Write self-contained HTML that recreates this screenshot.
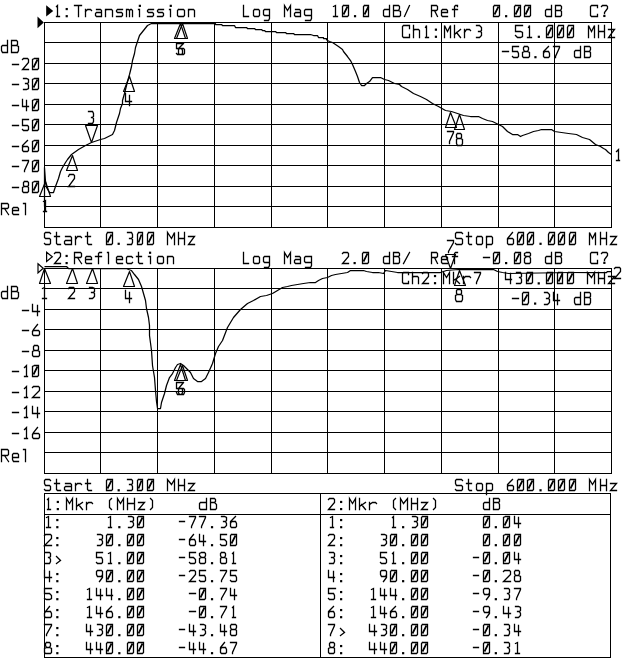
<!DOCTYPE html><html><head><meta charset="utf-8"><style>html,body{margin:0;padding:0;background:#fff;}svg{display:block}</style></head><body>
<svg width="640" height="659" viewBox="0 0 640 659">
<rect width="640" height="659" fill="#fff"/>
<g fill="#000"><rect x="44" y="22" width="568" height="1"/><rect x="44" y="42" width="568" height="1"/><rect x="44" y="63" width="568" height="1"/><rect x="44" y="83" width="568" height="1"/><rect x="44" y="104" width="568" height="1"/><rect x="44" y="124" width="568" height="1"/><rect x="44" y="145" width="568" height="1"/><rect x="44" y="165" width="568" height="1"/><rect x="44" y="186" width="568" height="1"/><rect x="44" y="206" width="568" height="1"/><rect x="44" y="227" width="568" height="1"/><rect x="44" y="22" width="1" height="206"/><rect x="100" y="22" width="1" height="206"/><rect x="157" y="22" width="1" height="206"/><rect x="214" y="22" width="1" height="206"/><rect x="271" y="22" width="1" height="206"/><rect x="327" y="22" width="1" height="206"/><rect x="384" y="22" width="1" height="206"/><rect x="441" y="22" width="1" height="206"/><rect x="498" y="22" width="1" height="206"/><rect x="554" y="22" width="1" height="206"/><rect x="611" y="22" width="1" height="206"/><rect x="44" y="268" width="568" height="1"/><rect x="44" y="288" width="568" height="1"/><rect x="44" y="309" width="568" height="1"/><rect x="44" y="329" width="568" height="1"/><rect x="44" y="350" width="568" height="1"/><rect x="44" y="370" width="568" height="1"/><rect x="44" y="391" width="568" height="1"/><rect x="44" y="411" width="568" height="1"/><rect x="44" y="432" width="568" height="1"/><rect x="44" y="452" width="568" height="1"/><rect x="44" y="473" width="568" height="1"/><rect x="44" y="268" width="1" height="206"/><rect x="100" y="268" width="1" height="206"/><rect x="157" y="268" width="1" height="206"/><rect x="214" y="268" width="1" height="206"/><rect x="271" y="268" width="1" height="206"/><rect x="327" y="268" width="1" height="206"/><rect x="384" y="268" width="1" height="206"/><rect x="441" y="268" width="1" height="206"/><rect x="498" y="268" width="1" height="206"/><rect x="554" y="268" width="1" height="206"/><rect x="611" y="268" width="1" height="206"/><rect x="44" y="493" width="567" height="1"/><rect x="44" y="514" width="567" height="1"/><rect x="44" y="657" width="567" height="1"/><rect x="44" y="493" width="1" height="165"/><rect x="320" y="493" width="1" height="165"/><rect x="610" y="493" width="1" height="165"/></g>
<g fill="none" stroke="#000" stroke-width="1.25" stroke-linejoin="round">
<polyline points="44.5,206.5 44.5,167.5 45.5,181.5 46.5,187.5 49.5,192.5 53.5,192.5 55.5,186.5 58.5,178.5 60.5,171.5 62.5,167.5 65.5,162.5 67.5,159.5 71.5,154.5 78.5,149.5 85.5,145.5 91.5,142.5 100.5,139.5 104.5,138.5 108.5,136.5 112.5,134.5 114.5,130.5 115.5,126.5 116.5,122.5 117.5,119.5 119.5,113.5 120.5,108.5 122.5,103.5 122.5,100.5 124.5,93.5 127.5,81.5 129.5,74.5 131.5,66.5 132.5,60.5 134.5,53.5 135.5,47.5 137.5,41.5 139.5,35.5 143.5,30.5 147.5,25.5 151.5,23.5 155.5,23.5 215.5,23.5 215.5,24.5 221.5,24.5 222.5,25.5 234.5,25.5 235.5,27.5 246.5,27.5 247.5,28.5 254.5,28.5 255.5,29.5 261.5,29.5 262.5,30.5 264.5,30.5 265.5,31.5 275.5,31.5 276.5,32.5 285.5,32.5 286.5,33.5 293.5,33.5 294.5,34.5 310.5,34.5 313.5,35.5 317.5,35.5 318.5,37.5 323.5,37.5 323.5,38.5 326.5,38.5 326.5,39.5 327.5,40.5 329.5,41.5 332.5,42.5 338.5,46.5 342.5,49.5 343.5,51.5 347.5,56.5 350.5,60.5 352.5,64.5 355.5,71.5 357.5,76.5 359.5,82.5 361.5,85.5 364.5,85.5 366.5,83.5 369.5,81.5 372.5,77.5 380.5,77.5 384.5,79.5 388.5,80.5 394.5,83.5 399.5,84.5 401.5,86.5 407.5,89.5 413.5,93.5 420.5,96.5 426.5,99.5 432.5,103.5 438.5,106.5 445.5,110.5 451.5,111.5 457.5,113.5 463.5,115.5 470.5,116.5 478.5,116.5 480.5,117.5 482.5,118.5 487.5,120.5 492.5,121.5 498.5,124.5 502.5,126.5 507.5,131.5 512.5,134.5 517.5,134.5 520.5,136.5 522.5,135.5 528.5,133.5 533.5,131.5 538.5,130.5 541.5,129.5 551.5,129.5 554.5,131.5 561.5,132.5 568.5,133.5 576.5,134.5 582.5,137.5 589.5,139.5 595.5,144.5 600.5,146.5 603.5,148.5 605.5,149.5 608.5,152.5 611.5,154.5"/>
<polyline points="44.5,266.5 66.5,266.5 68.5,268.5 126.5,268.5 128.5,269.5 131.5,270.5 134.5,274.5 138.5,279.5 141.5,286.5 143.5,293.5 145.5,300.5 146.5,308.5 148.5,317.5 149.5,325.5 149.5,335.5 151.5,350.5 152.5,365.5 154.5,377.5 155.5,390.5 156.5,401.5 157.5,408.5 160.5,408.5 161.5,402.5 164.5,393.5 166.5,385.5 169.5,377.5 172.5,373.5 175.5,367.5 177.5,364.5 180.5,363.5 183.5,365.5 186.5,368.5 190.5,372.5 193.5,378.5 197.5,381.5 201.5,381.5 205.5,378.5 208.5,372.5 212.5,363.5 215.5,353.5 218.5,346.5 222.5,340.5 227.5,327.5 233.5,317.5 240.5,309.5 247.5,303.5 253.5,300.5 260.5,296.5 266.5,295.5 272.5,293.5 277.5,290.5 282.5,287.5 287.5,286.5 291.5,285.5 297.5,284.5 303.5,283.5 310.5,282.5 315.5,282.5 318.5,280.5 322.5,278.5 327.5,277.5 331.5,275.5 335.5,274.5 341.5,273.5 347.5,272.5 350.5,270.5 358.5,270.5 363.5,270.5 366.5,271.5 372.5,272.5 378.5,272.5 383.5,273.5 385.5,270.5 391.5,271.5 397.5,272.5 440.5,272.5 446.5,270.5 458.5,269.5 476.5,269.5 477.5,269.5 493.5,269.5 497.5,271.5 502.5,272.5 508.5,273.5 570.5,272.5 595.5,272.5 606.5,272.5 607.5,271.5 611.5,271.5"/>
</g>
<polygon points="37.5,16.5 43.8,22.5 37.5,28.3" fill="#000"/>
<polygon points="38,263.8 43.2,268.3 38,273" fill="none" stroke="#000" stroke-width="1.2"/>
<polygon points="46.2,5.2 53.2,10.9 46.2,16.6" fill="#000"/>
<polygon points="46.6,252.3 52.3,256.8 46.6,261.4" fill="none" stroke="#000" stroke-width="1.2"/>
<g fill="none" stroke="#000" stroke-width="1.2" stroke-linejoin="round"><polygon points="45.5,181.5 50.5,196.5 39.5,196.5"/><polygon points="72.5,155.5 77.5,170.5 66.5,170.5"/><polygon points="91.5,142.5 97.5,125.5 85.5,125.5"/><polygon points="129.5,76.5 134.5,91.5 123.5,91.5"/><polygon points="180.5,23.5 185.5,38.5 174.5,38.5"/><polygon points="182.5,23.5 187.5,38.5 176.5,38.5"/><polygon points="450.5,112.5 456.5,127.5 445.5,127.5"/><polygon points="459.5,114.5 464.5,129.5 454.5,129.5"/><polygon points="44.5,268.5 50.5,283.5 39.5,283.5"/><polygon points="72.5,268.5 77.5,283.5 66.5,283.5"/><polygon points="92.5,268.5 97.5,283.5 86.5,283.5"/><polygon points="129.5,271.5 134.5,286.5 123.5,286.5"/><polygon points="180.5,364.5 185.5,380.5 174.5,380.5"/><polygon points="182.5,365.5 187.5,380.5 176.5,380.5"/><polygon points="450.5,268.5 455.5,254.5 445.5,254.5"/><polygon points="459.5,270.5 465.5,285.5 454.5,285.5"/></g>
<path fill="none" stroke="#000" stroke-width="1.3" stroke-linecap="square" stroke-linejoin="miter" d="M56.5 6.5L57.5 5.5L57.5 16.5M56.5 16.5L59.5 16.5M74.5 5.5L81.5 5.5M78.5 5.5L78.5 16.5M85.5 9.5L85.5 16.5M85.5 11.5L87.5 9.5L90.5 9.5L91.5 10.5M96.5 9.5L100.5 9.5L101.5 10.5L101.5 16.5M101.5 12.5L96.5 12.5L95.5 13.5L95.5 15.5L96.5 16.5L101.5 16.5M105.5 9.5L105.5 16.5M105.5 10.5L106.5 9.5L111.5 9.5L112.5 10.5L112.5 16.5M122.5 9.5L117.5 9.5L116.5 10.5L116.5 11.5L117.5 12.5L121.5 12.5L122.5 13.5L122.5 15.5L121.5 16.5L116.5 16.5M126.5 9.5L126.5 16.5M126.5 9.5L128.5 9.5L129.5 10.5L129.5 16.5M129.5 10.5L130.5 9.5L131.5 9.5L132.5 10.5L132.5 16.5M138.5 9.5L139.5 9.5L139.5 16.5M153.5 9.5L148.5 9.5L147.5 10.5L147.5 11.5L148.5 12.5L152.5 12.5L153.5 13.5L153.5 15.5L152.5 16.5L147.5 16.5M163.5 9.5L158.5 9.5L157.5 10.5L157.5 11.5L158.5 12.5L162.5 12.5L163.5 13.5L163.5 15.5L162.5 16.5L157.5 16.5M169.5 9.5L170.5 9.5L170.5 16.5M178.5 9.5L183.5 9.5L184.5 10.5L184.5 15.5L183.5 16.5L178.5 16.5L177.5 15.5L177.5 10.5L178.5 9.5M188.5 9.5L188.5 16.5M188.5 10.5L189.5 9.5L193.5 9.5L194.5 10.5L194.5 16.5M243.5 5.5L243.5 16.5L248.5 16.5M254.5 9.5L258.5 9.5L259.5 10.5L259.5 15.5L258.5 16.5L254.5 16.5L253.5 15.5L253.5 10.5L254.5 9.5M269.5 9.5L264.5 9.5L263.5 10.5L263.5 14.5L264.5 15.5L269.5 15.5M269.5 9.5L269.5 18.5L268.5 20.5L264.5 20.5M284.5 16.5L284.5 5.5L287.5 10.5L290.5 5.5L290.5 16.5M295.5 9.5L299.5 9.5L300.5 10.5L300.5 16.5M300.5 12.5L295.5 12.5L294.5 13.5L294.5 15.5L295.5 16.5L300.5 16.5M311.5 9.5L305.5 9.5L304.5 10.5L304.5 14.5L305.5 15.5L311.5 15.5M311.5 9.5L311.5 18.5L310.5 20.5L305.5 20.5M333.5 6.5L335.5 5.5L335.5 16.5M333.5 16.5L337.5 16.5M343.5 5.5L348.5 5.5L348.5 15.5L347.5 16.5L342.5 16.5L342.5 6.5L343.5 5.5M364.5 5.5L368.5 5.5L368.5 15.5L368.5 16.5L363.5 16.5L363.5 6.5L364.5 5.5M389.5 5.5L389.5 16.5L384.5 16.5L383.5 15.5L383.5 10.5L384.5 9.5L389.5 9.5M393.5 5.5L398.5 5.5L399.5 6.5L399.5 8.5L398.5 10.5L393.5 10.5M398.5 10.5L400.5 11.5L400.5 15.5L399.5 16.5L393.5 16.5L393.5 5.5M404.5 16.5L409.5 5.5M431.5 16.5L431.5 5.5L436.5 5.5L437.5 6.5L437.5 9.5L436.5 10.5L431.5 10.5M434.5 10.5L437.5 16.5M441.5 12.5L447.5 12.5L447.5 10.5L446.5 9.5L442.5 9.5L441.5 10.5L441.5 15.5L442.5 16.5L447.5 16.5M457.5 6.5L457.5 5.5L455.5 5.5L454.5 6.5L454.5 16.5M452.5 9.5L457.5 9.5M494.5 5.5L499.5 5.5L499.5 15.5L498.5 16.5L493.5 16.5L493.5 6.5L494.5 5.5M515.5 5.5L520.5 5.5L520.5 15.5L519.5 16.5L514.5 16.5L514.5 6.5L515.5 5.5M525.5 5.5L530.5 5.5L530.5 15.5L529.5 16.5L524.5 16.5L524.5 6.5L525.5 5.5M551.5 5.5L551.5 16.5L546.5 16.5L545.5 15.5L545.5 10.5L546.5 9.5L551.5 9.5M555.5 5.5L560.5 5.5L561.5 6.5L561.5 8.5L560.5 10.5L555.5 10.5M560.5 10.5L561.5 11.5L561.5 15.5L560.5 16.5L555.5 16.5L555.5 5.5M597.5 7.5L597.5 5.5L591.5 5.5L590.5 6.5L590.5 15.5L591.5 16.5L597.5 16.5L597.5 14.5M601.5 6.5L602.5 5.5L606.5 5.5L607.5 6.5L607.5 8.5L604.5 12.5L604.5 13.5M409.5 28.5L409.5 25.5L403.5 25.5L402.5 26.5L402.5 36.5L403.5 37.5L409.5 37.5L409.5 34.5M413.5 25.5L413.5 37.5M413.5 30.5L414.5 29.5L418.5 29.5L419.5 30.5L419.5 37.5M425.5 27.5L426.5 25.5L426.5 37.5M425.5 37.5L428.5 37.5M444.5 37.5L444.5 25.5L447.5 31.5L450.5 25.5L450.5 37.5M454.5 25.5L454.5 37.5M460.5 29.5L454.5 34.5M456.5 32.5L460.5 37.5M464.5 29.5L464.5 37.5M464.5 32.5L466.5 29.5L469.5 29.5L470.5 30.5M476.5 25.5L479.5 25.5L481.5 27.5L481.5 30.5L480.5 31.5L478.5 31.5M480.5 31.5L481.5 32.5L481.5 35.5L479.5 37.5L476.5 37.5M522.5 25.5L515.5 25.5L515.5 31.5L520.5 31.5L522.5 32.5L522.5 36.5L520.5 37.5L517.5 37.5L515.5 35.5M528.5 27.5L529.5 25.5L529.5 37.5M527.5 37.5L531.5 37.5M548.5 25.5L552.5 25.5L552.5 36.5L551.5 37.5L546.5 37.5L546.5 27.5L548.5 25.5M558.5 25.5L563.5 25.5L563.5 36.5L562.5 37.5L557.5 37.5L557.5 27.5L558.5 25.5M568.5 25.5L573.5 25.5L573.5 36.5L572.5 37.5L567.5 37.5L567.5 27.5L568.5 25.5M588.5 37.5L588.5 25.5L591.5 31.5L594.5 25.5L594.5 37.5M598.5 25.5L598.5 37.5M604.5 25.5L604.5 37.5M598.5 31.5L604.5 31.5M608.5 29.5L614.5 29.5L608.5 37.5L614.5 37.5M502.5 51.5L508.5 51.5M518.5 46.5L512.5 46.5L512.5 51.5L517.5 51.5L518.5 53.5L518.5 56.5L517.5 57.5L513.5 57.5L512.5 56.5M524.5 46.5L527.5 46.5L528.5 47.5L528.5 49.5L527.5 51.5L524.5 51.5L523.5 49.5L523.5 47.5L524.5 46.5M524.5 51.5L522.5 52.5L522.5 56.5L523.5 57.5L528.5 57.5L529.5 56.5L529.5 52.5L527.5 51.5M548.5 46.5L543.5 51.5L543.5 53.5L543.5 56.5L544.5 57.5L548.5 57.5L549.5 56.5L549.5 53.5L548.5 51.5L544.5 51.5L543.5 53.5M553.5 46.5L559.5 46.5L559.5 47.5L555.5 56.5L555.5 57.5M580.5 46.5L580.5 57.5L575.5 57.5L574.5 56.5L574.5 51.5L575.5 50.5L580.5 50.5M584.5 46.5L589.5 46.5L590.5 47.5L590.5 49.5L589.5 51.5L584.5 51.5M589.5 51.5L590.5 52.5L590.5 56.5L589.5 57.5L584.5 57.5L584.5 46.5M7.5 40.5L7.5 52.5L2.5 52.5L1.5 50.5L1.5 46.5L2.5 45.5L7.5 45.5M11.5 40.5L16.5 40.5L17.5 41.5L17.5 44.5L16.5 45.5L11.5 45.5M16.5 45.5L18.5 46.5L18.5 50.5L17.5 52.5L11.5 52.5L11.5 40.5M12.5 64.5L18.5 64.5M22.5 59.5L23.5 58.5L27.5 58.5L28.5 59.5L28.5 62.5L22.5 69.5L28.5 69.5M34.5 58.5L38.5 58.5L38.5 68.5L37.5 69.5L32.5 69.5L32.5 59.5L34.5 58.5M12.5 84.5L18.5 84.5M23.5 78.5L26.5 78.5L28.5 79.5L28.5 82.5L27.5 83.5L25.5 83.5M27.5 83.5L28.5 85.5L28.5 88.5L26.5 89.5L23.5 89.5M34.5 78.5L38.5 78.5L38.5 88.5L37.5 89.5L32.5 89.5L32.5 79.5L34.5 78.5M12.5 105.5L18.5 105.5M22.5 99.5L22.5 106.5L28.5 106.5M26.5 100.5L26.5 110.5M34.5 99.5L38.5 99.5L38.5 109.5L37.5 110.5L32.5 110.5L32.5 100.5L34.5 99.5M12.5 125.5L18.5 125.5M28.5 119.5L22.5 119.5L22.5 125.5L27.5 125.5L28.5 126.5L28.5 129.5L27.5 130.5L23.5 130.5L22.5 129.5M34.5 119.5L38.5 119.5L38.5 129.5L37.5 130.5L32.5 130.5L32.5 120.5L34.5 119.5M12.5 146.5L18.5 146.5M27.5 140.5L22.5 145.5L22.5 147.5L22.5 150.5L23.5 151.5L27.5 151.5L28.5 150.5L28.5 147.5L27.5 146.5L23.5 146.5L22.5 147.5M34.5 140.5L38.5 140.5L38.5 150.5L37.5 151.5L32.5 151.5L32.5 141.5L34.5 140.5M12.5 166.5L18.5 166.5M22.5 160.5L28.5 160.5L28.5 161.5L24.5 170.5L24.5 171.5M34.5 160.5L38.5 160.5L38.5 170.5L37.5 171.5L32.5 171.5L32.5 161.5L34.5 160.5M12.5 187.5L18.5 187.5M24.5 181.5L27.5 181.5L28.5 182.5L28.5 185.5L27.5 186.5L24.5 186.5L23.5 185.5L23.5 182.5L24.5 181.5M24.5 186.5L22.5 187.5L22.5 191.5L23.5 192.5L27.5 192.5L28.5 191.5L28.5 187.5L27.5 186.5M34.5 181.5L38.5 181.5L38.5 191.5L37.5 192.5L32.5 192.5L32.5 182.5L34.5 181.5M1.5 214.5L1.5 203.5L7.5 203.5L8.5 204.5L8.5 207.5L7.5 208.5L1.5 208.5M4.5 208.5L8.5 214.5M12.5 210.5L18.5 210.5L18.5 208.5L17.5 207.5L13.5 207.5L12.5 208.5L12.5 213.5L13.5 214.5L18.5 214.5M23.5 203.5L25.5 203.5L25.5 214.5M50.5 233.5L49.5 232.5L45.5 232.5L44.5 233.5L44.5 237.5L45.5 238.5L49.5 238.5L50.5 239.5L50.5 243.5L49.5 244.5L45.5 244.5L44.5 243.5M56.5 232.5L56.5 243.5L57.5 244.5L60.5 244.5M54.5 236.5L59.5 236.5M65.5 236.5L70.5 236.5L71.5 237.5L71.5 244.5M71.5 240.5L65.5 240.5L64.5 241.5L64.5 243.5L65.5 244.5L71.5 244.5M75.5 236.5L75.5 244.5M75.5 239.5L77.5 236.5L80.5 236.5L81.5 237.5M87.5 232.5L87.5 243.5L88.5 244.5L91.5 244.5M85.5 236.5L90.5 236.5M107.5 232.5L112.5 232.5L112.5 243.5L111.5 244.5L106.5 244.5L106.5 234.5L107.5 232.5M127.5 232.5L131.5 232.5L132.5 234.5L132.5 237.5L131.5 238.5L129.5 238.5M131.5 238.5L132.5 239.5L132.5 242.5L131.5 244.5L127.5 244.5M138.5 232.5L142.5 232.5L142.5 243.5L141.5 244.5L137.5 244.5L137.5 234.5L138.5 232.5M148.5 232.5L153.5 232.5L153.5 243.5L152.5 244.5L147.5 244.5L147.5 234.5L148.5 232.5M167.5 244.5L167.5 232.5L171.5 238.5L174.5 232.5L174.5 244.5M178.5 232.5L178.5 244.5M184.5 232.5L184.5 244.5M178.5 238.5L184.5 238.5M188.5 236.5L194.5 236.5L188.5 244.5L194.5 244.5M462.5 233.5L461.5 232.5L456.5 232.5L455.5 233.5L455.5 237.5L456.5 238.5L461.5 238.5L462.5 239.5L462.5 243.5L461.5 244.5L456.5 244.5L455.5 243.5M468.5 232.5L468.5 243.5L469.5 244.5L471.5 244.5M466.5 236.5L471.5 236.5M477.5 236.5L481.5 236.5L482.5 237.5L482.5 243.5L481.5 244.5L477.5 244.5L476.5 243.5L476.5 237.5L477.5 236.5M486.5 236.5L486.5 247.5M486.5 237.5L487.5 236.5L491.5 236.5L492.5 237.5L492.5 243.5L491.5 244.5L486.5 244.5M512.5 232.5L507.5 238.5L507.5 239.5L507.5 243.5L508.5 244.5L512.5 244.5L513.5 243.5L513.5 239.5L512.5 238.5L508.5 238.5L507.5 239.5M518.5 232.5L523.5 232.5L523.5 243.5L522.5 244.5L517.5 244.5L517.5 234.5L518.5 232.5M529.5 232.5L533.5 232.5L533.5 243.5L532.5 244.5L527.5 244.5L527.5 234.5L529.5 232.5M549.5 232.5L554.5 232.5L554.5 243.5L553.5 244.5L548.5 244.5L548.5 234.5L549.5 232.5M560.5 232.5L564.5 232.5L564.5 243.5L563.5 244.5L558.5 244.5L558.5 234.5L560.5 232.5M570.5 232.5L575.5 232.5L575.5 243.5L574.5 244.5L569.5 244.5L569.5 234.5L570.5 232.5M589.5 244.5L589.5 232.5L592.5 238.5L595.5 232.5L595.5 244.5M600.5 232.5L600.5 244.5M606.5 232.5L606.5 244.5M600.5 238.5L606.5 238.5M610.5 236.5L616.5 236.5L610.5 244.5L616.5 244.5M54.5 253.5L55.5 252.5L59.5 252.5L60.5 253.5L60.5 256.5L54.5 263.5L60.5 263.5M74.5 263.5L74.5 252.5L80.5 252.5L81.5 253.5L81.5 256.5L80.5 257.5L74.5 257.5M77.5 257.5L81.5 263.5M85.5 259.5L91.5 259.5L91.5 257.5L90.5 256.5L86.5 256.5L85.5 257.5L85.5 262.5L86.5 263.5L91.5 263.5M101.5 252.5L100.5 252.5L99.5 252.5L98.5 253.5L98.5 263.5M95.5 256.5L101.5 256.5M107.5 252.5L108.5 252.5L108.5 263.5M116.5 259.5L122.5 259.5L122.5 257.5L121.5 256.5L117.5 256.5L116.5 257.5L116.5 262.5L117.5 263.5L122.5 263.5M132.5 257.5L131.5 256.5L127.5 256.5L126.5 257.5L126.5 262.5L127.5 263.5L131.5 263.5L132.5 262.5M138.5 252.5L138.5 262.5L139.5 263.5L142.5 263.5M136.5 256.5L141.5 256.5M148.5 256.5L150.5 256.5L150.5 263.5M158.5 256.5L162.5 256.5L163.5 257.5L163.5 262.5L162.5 263.5L158.5 263.5L157.5 262.5L157.5 257.5L158.5 256.5M167.5 256.5L167.5 263.5M167.5 257.5L168.5 256.5L172.5 256.5L173.5 257.5L173.5 263.5M243.5 252.5L243.5 263.5L248.5 263.5M254.5 256.5L258.5 256.5L259.5 257.5L259.5 262.5L258.5 263.5L254.5 263.5L253.5 262.5L253.5 257.5L254.5 256.5M269.5 256.5L264.5 256.5L263.5 257.5L263.5 261.5L264.5 262.5L269.5 262.5M269.5 256.5L269.5 265.5L268.5 267.5L264.5 267.5M284.5 263.5L284.5 252.5L287.5 257.5L290.5 252.5L290.5 263.5M295.5 256.5L299.5 256.5L300.5 257.5L300.5 263.5M300.5 259.5L295.5 259.5L294.5 260.5L294.5 262.5L295.5 263.5L300.5 263.5M311.5 256.5L305.5 256.5L304.5 257.5L304.5 261.5L305.5 262.5L311.5 262.5M311.5 256.5L311.5 265.5L310.5 267.5L305.5 267.5M342.5 253.5L343.5 252.5L347.5 252.5L348.5 253.5L348.5 256.5L342.5 263.5L348.5 263.5M363.5 252.5L368.5 252.5L368.5 262.5L367.5 263.5L362.5 263.5L362.5 253.5L363.5 252.5M389.5 252.5L389.5 263.5L384.5 263.5L383.5 262.5L383.5 257.5L384.5 256.5L389.5 256.5M393.5 252.5L398.5 252.5L399.5 253.5L399.5 255.5L398.5 256.5L393.5 256.5M398.5 256.5L399.5 258.5L399.5 262.5L398.5 263.5L393.5 263.5L393.5 252.5M403.5 263.5L409.5 252.5M431.5 263.5L431.5 252.5L436.5 252.5L437.5 253.5L437.5 256.5L436.5 257.5L431.5 257.5M434.5 257.5L437.5 263.5M441.5 259.5L447.5 259.5L447.5 257.5L446.5 256.5L442.5 256.5L441.5 257.5L441.5 262.5L442.5 263.5L447.5 263.5M457.5 252.5L457.5 252.5L455.5 252.5L454.5 253.5L454.5 263.5M452.5 256.5L457.5 256.5M483.5 257.5L489.5 257.5M494.5 252.5L499.5 252.5L499.5 262.5L498.5 263.5L493.5 263.5L493.5 253.5L494.5 252.5M515.5 252.5L520.5 252.5L520.5 262.5L519.5 263.5L514.5 263.5L514.5 253.5L515.5 252.5M526.5 252.5L529.5 252.5L530.5 253.5L530.5 255.5L529.5 256.5L526.5 256.5L524.5 255.5L524.5 253.5L526.5 252.5M526.5 256.5L524.5 258.5L524.5 262.5L525.5 263.5L529.5 263.5L530.5 262.5L530.5 258.5L529.5 256.5M551.5 252.5L551.5 263.5L546.5 263.5L545.5 262.5L545.5 257.5L546.5 256.5L551.5 256.5M555.5 252.5L560.5 252.5L561.5 253.5L561.5 255.5L560.5 256.5L555.5 256.5M560.5 256.5L561.5 258.5L561.5 262.5L560.5 263.5L555.5 263.5L555.5 252.5M597.5 254.5L597.5 252.5L591.5 252.5L590.5 253.5L590.5 262.5L591.5 263.5L597.5 263.5L597.5 260.5M601.5 253.5L602.5 252.5L606.5 252.5L607.5 253.5L607.5 255.5L604.5 259.5L604.5 260.5M408.5 274.5L408.5 272.5L403.5 272.5L402.5 273.5L402.5 282.5L403.5 283.5L408.5 283.5L408.5 281.5M412.5 272.5L412.5 283.5M412.5 277.5L413.5 276.5L417.5 276.5L418.5 277.5L418.5 283.5M422.5 273.5L423.5 272.5L427.5 272.5L428.5 273.5L428.5 276.5L422.5 283.5L428.5 283.5M443.5 283.5L443.5 272.5L446.5 277.5L449.5 272.5L449.5 283.5M453.5 272.5L453.5 283.5M459.5 276.5L453.5 280.5M455.5 279.5L459.5 283.5M463.5 276.5L463.5 283.5M463.5 278.5L465.5 276.5L469.5 276.5L470.5 277.5M474.5 272.5L480.5 272.5L480.5 273.5L476.5 282.5L476.5 283.5M505.5 272.5L505.5 279.5L511.5 279.5M510.5 273.5L510.5 283.5M516.5 272.5L520.5 272.5L521.5 274.5L521.5 276.5L520.5 277.5L519.5 277.5M520.5 277.5L521.5 279.5L521.5 282.5L520.5 283.5L516.5 283.5M527.5 272.5L532.5 272.5L532.5 282.5L531.5 283.5L526.5 283.5L526.5 273.5L527.5 272.5M547.5 272.5L552.5 272.5L552.5 282.5L551.5 283.5L546.5 283.5L546.5 273.5L547.5 272.5M558.5 272.5L562.5 272.5L562.5 282.5L562.5 283.5L557.5 283.5L557.5 273.5L558.5 272.5M568.5 272.5L573.5 272.5L573.5 282.5L572.5 283.5L567.5 283.5L567.5 273.5L568.5 272.5M587.5 283.5L587.5 272.5L591.5 277.5L594.5 272.5L594.5 283.5M598.5 272.5L598.5 283.5M604.5 272.5L604.5 283.5M598.5 278.5L604.5 278.5M608.5 276.5L614.5 276.5L608.5 283.5L614.5 283.5M512.5 298.5L518.5 298.5M523.5 292.5L528.5 292.5L528.5 302.5L527.5 304.5L522.5 304.5L522.5 293.5L523.5 292.5M544.5 292.5L547.5 292.5L549.5 294.5L549.5 296.5L548.5 298.5L546.5 298.5M548.5 298.5L549.5 299.5L549.5 302.5L547.5 304.5L544.5 304.5M553.5 292.5L553.5 300.5L559.5 300.5M557.5 294.5L557.5 304.5M580.5 292.5L580.5 304.5L575.5 304.5L574.5 302.5L574.5 298.5L575.5 297.5L580.5 297.5M584.5 292.5L589.5 292.5L590.5 293.5L590.5 296.5L589.5 297.5L584.5 297.5M589.5 297.5L590.5 298.5L590.5 302.5L589.5 304.5L584.5 304.5L584.5 292.5M7.5 286.5L7.5 298.5L2.5 298.5L1.5 296.5L1.5 292.5L2.5 291.5L7.5 291.5M11.5 286.5L16.5 286.5L17.5 287.5L17.5 290.5L16.5 291.5L11.5 291.5M16.5 291.5L18.5 292.5L18.5 296.5L17.5 298.5L11.5 298.5L11.5 286.5M22.5 310.5L28.5 310.5M32.5 304.5L32.5 311.5L39.5 311.5M37.5 305.5L37.5 315.5M22.5 330.5L28.5 330.5M37.5 324.5L33.5 329.5L32.5 331.5L32.5 334.5L33.5 335.5L38.5 335.5L39.5 334.5L39.5 331.5L38.5 330.5L33.5 330.5L32.5 331.5M22.5 351.5L28.5 351.5M34.5 345.5L37.5 345.5L38.5 346.5L38.5 349.5L37.5 350.5L34.5 350.5L33.5 349.5L33.5 346.5L34.5 345.5M34.5 350.5L32.5 351.5L32.5 355.5L33.5 356.5L38.5 356.5L39.5 355.5L39.5 351.5L37.5 350.5M12.5 371.5L18.5 371.5M24.5 367.5L26.5 365.5L26.5 376.5M24.5 376.5L27.5 376.5M34.5 365.5L38.5 365.5L38.5 375.5L37.5 376.5L32.5 376.5L32.5 366.5L34.5 365.5M12.5 392.5L18.5 392.5M24.5 388.5L26.5 386.5L26.5 397.5M24.5 397.5L27.5 397.5M32.5 387.5L33.5 386.5L38.5 386.5L39.5 387.5L39.5 390.5L32.5 397.5L39.5 397.5M12.5 412.5L18.5 412.5M24.5 408.5L26.5 406.5L26.5 417.5M24.5 417.5L27.5 417.5M32.5 406.5L32.5 413.5L39.5 413.5M37.5 407.5L37.5 417.5M12.5 433.5L18.5 433.5M24.5 429.5L26.5 427.5L26.5 438.5M24.5 438.5L27.5 438.5M37.5 427.5L33.5 432.5L32.5 434.5L32.5 437.5L33.5 438.5L38.5 438.5L39.5 437.5L39.5 434.5L38.5 433.5L33.5 433.5L32.5 434.5M1.5 461.5L1.5 449.5L7.5 449.5L8.5 450.5L8.5 454.5L7.5 455.5L1.5 455.5M4.5 455.5L8.5 461.5M12.5 457.5L18.5 457.5L18.5 454.5L17.5 453.5L13.5 453.5L12.5 454.5L12.5 459.5L13.5 461.5L18.5 461.5M23.5 449.5L25.5 449.5L25.5 461.5M50.5 480.5L49.5 479.5L45.5 479.5L44.5 480.5L44.5 483.5L45.5 485.5L49.5 485.5L50.5 486.5L50.5 489.5L49.5 490.5L45.5 490.5L44.5 489.5M56.5 479.5L56.5 489.5L57.5 490.5L60.5 490.5M54.5 483.5L59.5 483.5M65.5 483.5L70.5 483.5L71.5 484.5L71.5 490.5M71.5 486.5L65.5 486.5L64.5 487.5L64.5 489.5L65.5 490.5L71.5 490.5M75.5 483.5L75.5 490.5M75.5 485.5L77.5 483.5L80.5 483.5L81.5 484.5M87.5 479.5L87.5 489.5L88.5 490.5L91.5 490.5M85.5 483.5L90.5 483.5M107.5 479.5L112.5 479.5L112.5 489.5L111.5 490.5L106.5 490.5L106.5 480.5L107.5 479.5M127.5 479.5L131.5 479.5L132.5 480.5L132.5 483.5L131.5 484.5L129.5 484.5M131.5 484.5L132.5 486.5L132.5 489.5L131.5 490.5L127.5 490.5M138.5 479.5L142.5 479.5L142.5 489.5L141.5 490.5L137.5 490.5L137.5 480.5L138.5 479.5M148.5 479.5L153.5 479.5L153.5 489.5L152.5 490.5L147.5 490.5L147.5 480.5L148.5 479.5M167.5 490.5L167.5 479.5L171.5 484.5L174.5 479.5L174.5 490.5M178.5 479.5L178.5 490.5M184.5 479.5L184.5 490.5M178.5 485.5L184.5 485.5M188.5 483.5L194.5 483.5L188.5 490.5L194.5 490.5M462.5 480.5L461.5 479.5L456.5 479.5L455.5 480.5L455.5 483.5L456.5 485.5L461.5 485.5L462.5 486.5L462.5 489.5L461.5 490.5L456.5 490.5L455.5 489.5M468.5 479.5L468.5 489.5L469.5 490.5L471.5 490.5M466.5 483.5L471.5 483.5M477.5 483.5L481.5 483.5L482.5 484.5L482.5 489.5L481.5 490.5L477.5 490.5L476.5 489.5L476.5 484.5L477.5 483.5M486.5 483.5L486.5 494.5M486.5 484.5L487.5 483.5L491.5 483.5L492.5 484.5L492.5 489.5L491.5 490.5L486.5 490.5M512.5 479.5L507.5 484.5L507.5 486.5L507.5 489.5L508.5 490.5L512.5 490.5L513.5 489.5L513.5 486.5L512.5 485.5L508.5 485.5L507.5 486.5M518.5 479.5L523.5 479.5L523.5 489.5L522.5 490.5L517.5 490.5L517.5 480.5L518.5 479.5M529.5 479.5L533.5 479.5L533.5 489.5L532.5 490.5L527.5 490.5L527.5 480.5L529.5 479.5M549.5 479.5L554.5 479.5L554.5 489.5L553.5 490.5L548.5 490.5L548.5 480.5L549.5 479.5M560.5 479.5L564.5 479.5L564.5 489.5L563.5 490.5L558.5 490.5L558.5 480.5L560.5 479.5M570.5 479.5L575.5 479.5L575.5 489.5L574.5 490.5L569.5 490.5L569.5 480.5L570.5 479.5M589.5 490.5L589.5 479.5L592.5 484.5L595.5 479.5L595.5 490.5M600.5 479.5L600.5 490.5M606.5 479.5L606.5 490.5M600.5 485.5L606.5 485.5M610.5 483.5L616.5 483.5L610.5 490.5L616.5 490.5M47.5 499.5L48.5 498.5L48.5 509.5M47.5 509.5L50.5 509.5M66.5 509.5L66.5 498.5L69.5 503.5L72.5 498.5L72.5 509.5M76.5 498.5L76.5 509.5M82.5 502.5L76.5 506.5M78.5 504.5L82.5 509.5M86.5 502.5L86.5 509.5M86.5 504.5L88.5 502.5L91.5 502.5L92.5 503.5M111.5 498.5L109.5 500.5L109.5 507.5L111.5 509.5M117.5 509.5L117.5 498.5L120.5 503.5L123.5 498.5L123.5 509.5M127.5 498.5L127.5 509.5M134.5 498.5L134.5 509.5M127.5 503.5L134.5 503.5M138.5 502.5L144.5 502.5L138.5 509.5L144.5 509.5M150.5 498.5L152.5 500.5L152.5 507.5L150.5 509.5M206.5 498.5L206.5 509.5L200.5 509.5L199.5 508.5L199.5 503.5L200.5 502.5L206.5 502.5M210.5 498.5L214.5 498.5L215.5 499.5L215.5 501.5L214.5 502.5L210.5 502.5M214.5 502.5L216.5 504.5L216.5 508.5L215.5 509.5L210.5 509.5L210.5 498.5M328.5 499.5L329.5 498.5L333.5 498.5L334.5 499.5L334.5 502.5L328.5 509.5L334.5 509.5M349.5 509.5L349.5 498.5L352.5 503.5L355.5 498.5L355.5 509.5M359.5 498.5L359.5 509.5M365.5 502.5L359.5 506.5M361.5 504.5L365.5 509.5M369.5 502.5L369.5 509.5M369.5 504.5L372.5 502.5L375.5 502.5L376.5 503.5M395.5 498.5L393.5 500.5L393.5 507.5L395.5 509.5M400.5 509.5L400.5 498.5L403.5 503.5L407.5 498.5L407.5 509.5M411.5 498.5L411.5 509.5M417.5 498.5L417.5 509.5M411.5 503.5L417.5 503.5M421.5 502.5L427.5 502.5L421.5 509.5L427.5 509.5M433.5 498.5L435.5 500.5L435.5 507.5L433.5 509.5M489.5 498.5L489.5 509.5L484.5 509.5L483.5 508.5L483.5 503.5L484.5 502.5L489.5 502.5M493.5 498.5L498.5 498.5L499.5 499.5L499.5 501.5L498.5 502.5L493.5 502.5M498.5 502.5L499.5 504.5L499.5 508.5L498.5 509.5L493.5 509.5L493.5 498.5M46.5 517.5L48.5 516.5L48.5 527.5M46.5 527.5L50.5 527.5M108.5 517.5L110.5 516.5L110.5 527.5M108.5 527.5L111.5 527.5M128.5 516.5L131.5 516.5L133.5 517.5L133.5 520.5L132.5 521.5L130.5 521.5M132.5 521.5L133.5 523.5L133.5 525.5L131.5 527.5L128.5 527.5M138.5 516.5L143.5 516.5L143.5 526.5L142.5 527.5L137.5 527.5L137.5 517.5L138.5 516.5M179.5 521.5L184.5 521.5M189.5 516.5L195.5 516.5L195.5 517.5L191.5 526.5L191.5 527.5M199.5 516.5L205.5 516.5L205.5 517.5L201.5 526.5L201.5 527.5M221.5 516.5L224.5 516.5L226.5 517.5L226.5 520.5L225.5 521.5L223.5 521.5M225.5 521.5L226.5 523.5L226.5 525.5L224.5 527.5L221.5 527.5M235.5 516.5L230.5 521.5L230.5 523.5L230.5 526.5L231.5 527.5L235.5 527.5L236.5 526.5L236.5 523.5L235.5 521.5L231.5 521.5L230.5 523.5M330.5 517.5L332.5 516.5L332.5 527.5M330.5 527.5L333.5 527.5M392.5 517.5L393.5 516.5L393.5 527.5M392.5 527.5L395.5 527.5M412.5 516.5L415.5 516.5L417.5 517.5L417.5 520.5L416.5 521.5L414.5 521.5M416.5 521.5L417.5 523.5L417.5 525.5L415.5 527.5L412.5 527.5M422.5 516.5L427.5 516.5L427.5 526.5L426.5 527.5L421.5 527.5L421.5 517.5L422.5 516.5M484.5 516.5L489.5 516.5L489.5 526.5L488.5 527.5L483.5 527.5L483.5 517.5L484.5 516.5M505.5 516.5L509.5 516.5L509.5 526.5L508.5 527.5L503.5 527.5L503.5 517.5L505.5 516.5M514.5 516.5L514.5 523.5L520.5 523.5M518.5 517.5L518.5 527.5M44.5 535.5L45.5 534.5L50.5 534.5L51.5 535.5L51.5 538.5L44.5 545.5L51.5 545.5M97.5 534.5L100.5 534.5L102.5 535.5L102.5 538.5L101.5 539.5L99.5 539.5M101.5 539.5L102.5 541.5L102.5 543.5L100.5 545.5L97.5 545.5M107.5 534.5L112.5 534.5L112.5 544.5L111.5 545.5L106.5 545.5L106.5 535.5L107.5 534.5M128.5 534.5L133.5 534.5L133.5 544.5L132.5 545.5L127.5 545.5L127.5 535.5L128.5 534.5M138.5 534.5L143.5 534.5L143.5 544.5L142.5 545.5L137.5 545.5L137.5 535.5L138.5 534.5M179.5 539.5L184.5 539.5M193.5 534.5L189.5 539.5L189.5 541.5L189.5 544.5L190.5 545.5L194.5 545.5L195.5 544.5L195.5 541.5L194.5 539.5L190.5 539.5L189.5 541.5M199.5 534.5L199.5 541.5L205.5 541.5M203.5 535.5L203.5 545.5M226.5 534.5L220.5 534.5L220.5 539.5L224.5 539.5L226.5 541.5L226.5 544.5L225.5 545.5L221.5 545.5L220.5 544.5M231.5 534.5L236.5 534.5L236.5 544.5L235.5 545.5L230.5 545.5L230.5 535.5L231.5 534.5M328.5 535.5L329.5 534.5L333.5 534.5L334.5 535.5L334.5 538.5L328.5 545.5L334.5 545.5M381.5 534.5L384.5 534.5L386.5 535.5L386.5 538.5L385.5 539.5L383.5 539.5M385.5 539.5L386.5 541.5L386.5 543.5L384.5 545.5L381.5 545.5M391.5 534.5L396.5 534.5L396.5 544.5L395.5 545.5L390.5 545.5L390.5 535.5L391.5 534.5M412.5 534.5L417.5 534.5L417.5 544.5L416.5 545.5L411.5 545.5L411.5 535.5L412.5 534.5M422.5 534.5L427.5 534.5L427.5 544.5L426.5 545.5L421.5 545.5L421.5 535.5L422.5 534.5M484.5 534.5L489.5 534.5L489.5 544.5L488.5 545.5L483.5 545.5L483.5 535.5L484.5 534.5M505.5 534.5L509.5 534.5L509.5 544.5L508.5 545.5L503.5 545.5L503.5 535.5L505.5 534.5M515.5 534.5L520.5 534.5L520.5 544.5L519.5 545.5L514.5 545.5L514.5 535.5L515.5 534.5M45.5 552.5L49.5 552.5L50.5 553.5L50.5 556.5L49.5 557.5L48.5 557.5M49.5 557.5L50.5 559.5L50.5 561.5L49.5 563.5L45.5 563.5M56.5 556.5L60.5 560.5L56.5 563.5M102.5 552.5L96.5 552.5L96.5 557.5L101.5 557.5L102.5 559.5L102.5 562.5L101.5 563.5L97.5 563.5L96.5 562.5M108.5 553.5L110.5 552.5L110.5 563.5M108.5 563.5L111.5 563.5M128.5 552.5L133.5 552.5L133.5 562.5L132.5 563.5L127.5 563.5L127.5 553.5L128.5 552.5M138.5 552.5L143.5 552.5L143.5 562.5L142.5 563.5L137.5 563.5L137.5 553.5L138.5 552.5M179.5 557.5L184.5 557.5M195.5 552.5L189.5 552.5L189.5 557.5L193.5 557.5L195.5 559.5L195.5 562.5L194.5 563.5L190.5 563.5L189.5 562.5M201.5 552.5L204.5 552.5L205.5 553.5L205.5 555.5L204.5 557.5L201.5 557.5L199.5 555.5L199.5 553.5L201.5 552.5M201.5 557.5L199.5 558.5L199.5 562.5L200.5 563.5L204.5 563.5L205.5 562.5L205.5 558.5L204.5 557.5M221.5 552.5L224.5 552.5L225.5 553.5L225.5 555.5L224.5 557.5L221.5 557.5L220.5 555.5L220.5 553.5L221.5 552.5M221.5 557.5L220.5 558.5L220.5 562.5L221.5 563.5L225.5 563.5L226.5 562.5L226.5 558.5L224.5 557.5M232.5 553.5L233.5 552.5L233.5 563.5M232.5 563.5L235.5 563.5M329.5 552.5L333.5 552.5L334.5 553.5L334.5 556.5L333.5 557.5L331.5 557.5M333.5 557.5L334.5 559.5L334.5 561.5L333.5 563.5L329.5 563.5M386.5 552.5L380.5 552.5L380.5 557.5L384.5 557.5L386.5 559.5L386.5 562.5L385.5 563.5L381.5 563.5L380.5 562.5M392.5 553.5L393.5 552.5L393.5 563.5M392.5 563.5L395.5 563.5M412.5 552.5L417.5 552.5L417.5 562.5L416.5 563.5L411.5 563.5L411.5 553.5L412.5 552.5M422.5 552.5L427.5 552.5L427.5 562.5L426.5 563.5L421.5 563.5L421.5 553.5L422.5 552.5M473.5 557.5L478.5 557.5M484.5 552.5L489.5 552.5L489.5 562.5L488.5 563.5L483.5 563.5L483.5 553.5L484.5 552.5M505.5 552.5L509.5 552.5L509.5 562.5L508.5 563.5L503.5 563.5L503.5 553.5L505.5 552.5M514.5 552.5L514.5 559.5L520.5 559.5M518.5 553.5L518.5 563.5M44.5 570.5L44.5 577.5L51.5 577.5M49.5 571.5L49.5 581.5M102.5 574.5L101.5 576.5L97.5 576.5L96.5 574.5L96.5 571.5L97.5 570.5L101.5 570.5L102.5 571.5L102.5 577.5L99.5 581.5M107.5 570.5L112.5 570.5L112.5 580.5L111.5 581.5L106.5 581.5L106.5 571.5L107.5 570.5M128.5 570.5L133.5 570.5L133.5 580.5L132.5 581.5L127.5 581.5L127.5 571.5L128.5 570.5M138.5 570.5L143.5 570.5L143.5 580.5L142.5 581.5L137.5 581.5L137.5 571.5L138.5 570.5M179.5 575.5L184.5 575.5M189.5 571.5L190.5 570.5L194.5 570.5L195.5 571.5L195.5 574.5L189.5 581.5L195.5 581.5M205.5 570.5L199.5 570.5L199.5 575.5L204.5 575.5L205.5 577.5L205.5 580.5L204.5 581.5L200.5 581.5L199.5 580.5M220.5 570.5L226.5 570.5L226.5 571.5L221.5 580.5L221.5 581.5M236.5 570.5L230.5 570.5L230.5 575.5L235.5 575.5L236.5 577.5L236.5 580.5L235.5 581.5L231.5 581.5L230.5 580.5M328.5 570.5L328.5 577.5L334.5 577.5M333.5 571.5L333.5 581.5M386.5 574.5L385.5 576.5L381.5 576.5L380.5 574.5L380.5 571.5L381.5 570.5L385.5 570.5L386.5 571.5L386.5 577.5L383.5 581.5M391.5 570.5L396.5 570.5L396.5 580.5L395.5 581.5L390.5 581.5L390.5 571.5L391.5 570.5M412.5 570.5L417.5 570.5L417.5 580.5L416.5 581.5L411.5 581.5L411.5 571.5L412.5 570.5M422.5 570.5L427.5 570.5L427.5 580.5L426.5 581.5L421.5 581.5L421.5 571.5L422.5 570.5M473.5 575.5L478.5 575.5M484.5 570.5L489.5 570.5L489.5 580.5L488.5 581.5L483.5 581.5L483.5 571.5L484.5 570.5M503.5 571.5L504.5 570.5L509.5 570.5L510.5 571.5L510.5 574.5L503.5 581.5L510.5 581.5M515.5 570.5L518.5 570.5L519.5 571.5L519.5 573.5L518.5 575.5L515.5 575.5L514.5 573.5L514.5 571.5L515.5 570.5M515.5 575.5L514.5 576.5L514.5 580.5L515.5 581.5L519.5 581.5L520.5 580.5L520.5 576.5L518.5 575.5M51.5 588.5L44.5 588.5L44.5 593.5L49.5 593.5L51.5 595.5L51.5 598.5L49.5 599.5L46.5 599.5L44.5 598.5M87.5 589.5L89.5 588.5L89.5 599.5M87.5 599.5L91.5 599.5M96.5 588.5L96.5 595.5L102.5 595.5M100.5 589.5L100.5 599.5M106.5 588.5L106.5 595.5L112.5 595.5M111.5 589.5L111.5 599.5M128.5 588.5L133.5 588.5L133.5 598.5L132.5 599.5L127.5 599.5L127.5 589.5L128.5 588.5M138.5 588.5L143.5 588.5L143.5 598.5L142.5 599.5L137.5 599.5L137.5 589.5L138.5 588.5M189.5 593.5L195.5 593.5M200.5 588.5L205.5 588.5L205.5 598.5L204.5 599.5L199.5 599.5L199.5 589.5L200.5 588.5M220.5 588.5L226.5 588.5L226.5 589.5L221.5 598.5L221.5 599.5M230.5 588.5L230.5 595.5L236.5 595.5M234.5 589.5L234.5 599.5M335.5 588.5L328.5 588.5L328.5 593.5L333.5 593.5L334.5 595.5L334.5 598.5L333.5 599.5L329.5 599.5L328.5 598.5M371.5 589.5L373.5 588.5L373.5 599.5M371.5 599.5L375.5 599.5M380.5 588.5L380.5 595.5L386.5 595.5M384.5 589.5L384.5 599.5M390.5 588.5L390.5 595.5L396.5 595.5M395.5 589.5L395.5 599.5M412.5 588.5L417.5 588.5L417.5 598.5L416.5 599.5L411.5 599.5L411.5 589.5L412.5 588.5M422.5 588.5L427.5 588.5L427.5 598.5L426.5 599.5L421.5 599.5L421.5 589.5L422.5 588.5M473.5 593.5L478.5 593.5M489.5 592.5L488.5 594.5L484.5 594.5L483.5 592.5L483.5 589.5L484.5 588.5L488.5 588.5L489.5 589.5L489.5 595.5L486.5 599.5M504.5 588.5L508.5 588.5L509.5 589.5L509.5 592.5L508.5 593.5L507.5 593.5M508.5 593.5L509.5 595.5L509.5 597.5L508.5 599.5L504.5 599.5M514.5 588.5L520.5 588.5L520.5 589.5L516.5 598.5L516.5 599.5M49.5 606.5L45.5 611.5L44.5 613.5L44.5 616.5L45.5 617.5L50.5 617.5L51.5 616.5L51.5 613.5L50.5 611.5L45.5 611.5L44.5 613.5M87.5 607.5L89.5 606.5L89.5 617.5M87.5 617.5L91.5 617.5M96.5 606.5L96.5 613.5L102.5 613.5M100.5 607.5L100.5 617.5M111.5 606.5L106.5 611.5L106.5 613.5L106.5 616.5L107.5 617.5L111.5 617.5L112.5 616.5L112.5 613.5L111.5 611.5L107.5 611.5L106.5 613.5M128.5 606.5L133.5 606.5L133.5 616.5L132.5 617.5L127.5 617.5L127.5 607.5L128.5 606.5M138.5 606.5L143.5 606.5L143.5 616.5L142.5 617.5L137.5 617.5L137.5 607.5L138.5 606.5M189.5 611.5L195.5 611.5M200.5 606.5L205.5 606.5L205.5 616.5L204.5 617.5L199.5 617.5L199.5 607.5L200.5 606.5M220.5 606.5L226.5 606.5L226.5 607.5L221.5 616.5L221.5 617.5M232.5 607.5L233.5 606.5L233.5 617.5M232.5 617.5L235.5 617.5M333.5 606.5L328.5 611.5L328.5 613.5L328.5 616.5L329.5 617.5L333.5 617.5L334.5 616.5L334.5 613.5L333.5 611.5L329.5 611.5L328.5 613.5M371.5 607.5L373.5 606.5L373.5 617.5M371.5 617.5L375.5 617.5M380.5 606.5L380.5 613.5L386.5 613.5M384.5 607.5L384.5 617.5M395.5 606.5L390.5 611.5L390.5 613.5L390.5 616.5L391.5 617.5L395.5 617.5L396.5 616.5L396.5 613.5L395.5 611.5L391.5 611.5L390.5 613.5M412.5 606.5L417.5 606.5L417.5 616.5L416.5 617.5L411.5 617.5L411.5 607.5L412.5 606.5M422.5 606.5L427.5 606.5L427.5 616.5L426.5 617.5L421.5 617.5L421.5 607.5L422.5 606.5M473.5 611.5L478.5 611.5M489.5 610.5L488.5 612.5L484.5 612.5L483.5 610.5L483.5 607.5L484.5 606.5L488.5 606.5L489.5 607.5L489.5 613.5L486.5 617.5M503.5 606.5L503.5 613.5L510.5 613.5M508.5 607.5L508.5 617.5M515.5 606.5L518.5 606.5L520.5 607.5L520.5 610.5L519.5 611.5L517.5 611.5M519.5 611.5L520.5 613.5L520.5 615.5L518.5 617.5L515.5 617.5M44.5 624.5L51.5 624.5L51.5 625.5L46.5 634.5L46.5 635.5M86.5 624.5L86.5 631.5L92.5 631.5M90.5 625.5L90.5 635.5M97.5 624.5L100.5 624.5L102.5 625.5L102.5 628.5L101.5 629.5L99.5 629.5M101.5 629.5L102.5 631.5L102.5 633.5L100.5 635.5L97.5 635.5M107.5 624.5L112.5 624.5L112.5 634.5L111.5 635.5L106.5 635.5L106.5 625.5L107.5 624.5M128.5 624.5L133.5 624.5L133.5 634.5L132.5 635.5L127.5 635.5L127.5 625.5L128.5 624.5M138.5 624.5L143.5 624.5L143.5 634.5L142.5 635.5L137.5 635.5L137.5 625.5L138.5 624.5M179.5 629.5L184.5 629.5M189.5 624.5L189.5 631.5L195.5 631.5M193.5 625.5L193.5 635.5M200.5 624.5L203.5 624.5L205.5 625.5L205.5 628.5L204.5 629.5L202.5 629.5M204.5 629.5L205.5 631.5L205.5 633.5L203.5 635.5L200.5 635.5M220.5 624.5L220.5 631.5L226.5 631.5M224.5 625.5L224.5 635.5M231.5 624.5L235.5 624.5L236.5 625.5L236.5 627.5L235.5 629.5L231.5 629.5L230.5 627.5L230.5 625.5L231.5 624.5M231.5 629.5L230.5 630.5L230.5 634.5L231.5 635.5L235.5 635.5L236.5 634.5L236.5 630.5L235.5 629.5M328.5 624.5L334.5 624.5L334.5 625.5L330.5 634.5L330.5 635.5M340.5 628.5L344.5 632.5L340.5 635.5M369.5 624.5L369.5 631.5L376.5 631.5M374.5 625.5L374.5 635.5M381.5 624.5L384.5 624.5L386.5 625.5L386.5 628.5L385.5 629.5L383.5 629.5M385.5 629.5L386.5 631.5L386.5 633.5L384.5 635.5L381.5 635.5M391.5 624.5L396.5 624.5L396.5 634.5L395.5 635.5L390.5 635.5L390.5 625.5L391.5 624.5M412.5 624.5L417.5 624.5L417.5 634.5L416.5 635.5L411.5 635.5L411.5 625.5L412.5 624.5M422.5 624.5L427.5 624.5L427.5 634.5L426.5 635.5L421.5 635.5L421.5 625.5L422.5 624.5M473.5 629.5L478.5 629.5M484.5 624.5L489.5 624.5L489.5 634.5L488.5 635.5L483.5 635.5L483.5 625.5L484.5 624.5M504.5 624.5L508.5 624.5L509.5 625.5L509.5 628.5L508.5 629.5L507.5 629.5M508.5 629.5L509.5 631.5L509.5 633.5L508.5 635.5L504.5 635.5M514.5 624.5L514.5 631.5L520.5 631.5M518.5 625.5L518.5 635.5M46.5 642.5L49.5 642.5L50.5 643.5L50.5 645.5L49.5 647.5L46.5 647.5L45.5 645.5L45.5 643.5L46.5 642.5M46.5 647.5L44.5 648.5L44.5 652.5L45.5 653.5L50.5 653.5L51.5 652.5L51.5 648.5L49.5 647.5M86.5 642.5L86.5 649.5L92.5 649.5M90.5 643.5L90.5 653.5M96.5 642.5L96.5 649.5L102.5 649.5M100.5 643.5L100.5 653.5M107.5 642.5L112.5 642.5L112.5 652.5L111.5 653.5L106.5 653.5L106.5 643.5L107.5 642.5M128.5 642.5L133.5 642.5L133.5 652.5L132.5 653.5L127.5 653.5L127.5 643.5L128.5 642.5M138.5 642.5L143.5 642.5L143.5 652.5L142.5 653.5L137.5 653.5L137.5 643.5L138.5 642.5M179.5 647.5L184.5 647.5M189.5 642.5L189.5 649.5L195.5 649.5M193.5 643.5L193.5 653.5M199.5 642.5L199.5 649.5L205.5 649.5M203.5 643.5L203.5 653.5M224.5 642.5L220.5 647.5L220.5 649.5L220.5 652.5L221.5 653.5L225.5 653.5L226.5 652.5L226.5 649.5L225.5 647.5L221.5 647.5L220.5 649.5M230.5 642.5L236.5 642.5L236.5 643.5L232.5 652.5L232.5 653.5M330.5 642.5L333.5 642.5L334.5 643.5L334.5 645.5L333.5 647.5L330.5 647.5L329.5 645.5L329.5 643.5L330.5 642.5M330.5 647.5L328.5 648.5L328.5 652.5L329.5 653.5L333.5 653.5L334.5 652.5L334.5 648.5L333.5 647.5M369.5 642.5L369.5 649.5L376.5 649.5M374.5 643.5L374.5 653.5M380.5 642.5L380.5 649.5L386.5 649.5M384.5 643.5L384.5 653.5M391.5 642.5L396.5 642.5L396.5 652.5L395.5 653.5L390.5 653.5L390.5 643.5L391.5 642.5M412.5 642.5L417.5 642.5L417.5 652.5L416.5 653.5L411.5 653.5L411.5 643.5L412.5 642.5M422.5 642.5L427.5 642.5L427.5 652.5L426.5 653.5L421.5 653.5L421.5 643.5L422.5 642.5M473.5 647.5L478.5 647.5M484.5 642.5L489.5 642.5L489.5 652.5L488.5 653.5L483.5 653.5L483.5 643.5L484.5 642.5M504.5 642.5L508.5 642.5L509.5 643.5L509.5 646.5L508.5 647.5L507.5 647.5M508.5 647.5L509.5 649.5L509.5 651.5L508.5 653.5L504.5 653.5M515.5 643.5L517.5 642.5L517.5 653.5M515.5 653.5L519.5 653.5M43.5 201.5L45.5 200.5L45.5 211.5M43.5 211.5L46.5 211.5M68.5 176.5L69.5 174.5L73.5 174.5L74.5 175.5L74.5 178.5L68.5 186.5L74.5 186.5M88.5 111.5L92.5 111.5L93.5 113.5L93.5 116.5L92.5 117.5L91.5 117.5M92.5 117.5L93.5 118.5L93.5 121.5L92.5 123.5L88.5 123.5M125.5 93.5L125.5 101.5L131.5 101.5M129.5 95.5L129.5 105.5M182.5 43.5L176.5 43.5L176.5 48.5L181.5 48.5L182.5 50.5L182.5 53.5L181.5 54.5L177.5 54.5L176.5 53.5M183.5 43.5L178.5 48.5L178.5 49.5L178.5 53.5L179.5 54.5L183.5 54.5L184.5 53.5L184.5 49.5L183.5 48.5L179.5 48.5L178.5 49.5M447.5 131.5L453.5 131.5L453.5 132.5L449.5 141.5L449.5 143.5M457.5 133.5L460.5 133.5L461.5 134.5L461.5 137.5L460.5 138.5L457.5 138.5L456.5 137.5L456.5 134.5L457.5 133.5M457.5 138.5L456.5 139.5L456.5 143.5L457.5 145.5L461.5 145.5L462.5 143.5L462.5 139.5L460.5 138.5M42.5 288.5L44.5 287.5L44.5 298.5M42.5 298.5L46.5 298.5M68.5 288.5L69.5 287.5L73.5 287.5L74.5 288.5L74.5 291.5L68.5 298.5L74.5 298.5M89.5 287.5L92.5 287.5L94.5 288.5L94.5 291.5L93.5 292.5L91.5 292.5M93.5 292.5L94.5 293.5L94.5 296.5L92.5 298.5L89.5 298.5M125.5 290.5L125.5 298.5L131.5 298.5M129.5 292.5L129.5 302.5M182.5 382.5L176.5 382.5L176.5 388.5L181.5 388.5L182.5 389.5L182.5 392.5L181.5 394.5L177.5 394.5L176.5 392.5M183.5 382.5L178.5 388.5L178.5 389.5L178.5 392.5L179.5 394.5L183.5 394.5L184.5 392.5L184.5 389.5L183.5 388.5L179.5 388.5L178.5 389.5M447.5 240.5L453.5 240.5L453.5 242.5L448.5 251.5L448.5 252.5M457.5 289.5L460.5 289.5L461.5 290.5L461.5 293.5L460.5 294.5L457.5 294.5L456.5 293.5L456.5 290.5L457.5 289.5M457.5 294.5L455.5 295.5L455.5 299.5L456.5 301.5L461.5 301.5L462.5 299.5L462.5 295.5L460.5 294.5M616.5 151.5L618.5 149.5L618.5 160.5M616.5 160.5L619.5 160.5M614.5 268.5L615.5 267.5L619.5 267.5L620.5 268.5L620.5 271.5L614.5 278.5L620.5 278.5"/>
<path fill="none" stroke="#000" stroke-width="1.7" stroke-linecap="butt" d="M343.5 14.5L347.5 6.5M364.5 14.5L368.5 6.5M494.5 14.5L498.5 6.5M515.5 14.5L519.5 6.5M525.5 14.5L529.5 6.5M547.5 35.5L551.5 27.5M558.5 35.5L562.5 27.5M568.5 35.5L572.5 27.5M33.5 67.5L37.5 59.5M33.5 87.5L37.5 79.5M33.5 108.5L37.5 100.5M33.5 128.5L37.5 120.5M33.5 149.5L37.5 141.5M33.5 169.5L37.5 161.5M33.5 190.5L37.5 182.5M107.5 242.5L111.5 234.5M138.5 242.5L141.5 234.5M148.5 242.5L152.5 234.5M518.5 242.5L522.5 234.5M528.5 242.5L532.5 234.5M549.5 242.5L553.5 234.5M559.5 242.5L563.5 234.5M570.5 242.5L574.5 234.5M363.5 261.5L367.5 253.5M494.5 261.5L498.5 253.5M515.5 261.5L519.5 253.5M527.5 281.5L531.5 273.5M547.5 281.5L551.5 273.5M558.5 281.5L562.5 273.5M568.5 281.5L572.5 273.5M523.5 301.5L527.5 294.5M33.5 374.5L37.5 366.5M107.5 488.5L111.5 480.5M138.5 488.5L141.5 480.5M148.5 488.5L152.5 480.5M518.5 488.5L522.5 480.5M528.5 488.5L532.5 480.5M549.5 488.5L553.5 480.5M559.5 488.5L563.5 480.5M570.5 488.5L574.5 480.5M138.5 525.5L142.5 517.5M422.5 525.5L426.5 517.5M484.5 525.5L488.5 517.5M504.5 525.5L508.5 517.5M107.5 543.5L111.5 535.5M128.5 543.5L132.5 535.5M138.5 543.5L142.5 535.5M231.5 543.5L235.5 535.5M391.5 543.5L395.5 535.5M412.5 543.5L416.5 535.5M422.5 543.5L426.5 535.5M484.5 543.5L488.5 535.5M504.5 543.5L508.5 535.5M515.5 543.5L519.5 535.5M128.5 561.5L132.5 553.5M138.5 561.5L142.5 553.5M412.5 561.5L416.5 553.5M422.5 561.5L426.5 553.5M484.5 561.5L488.5 553.5M504.5 561.5L508.5 553.5M107.5 579.5L111.5 571.5M128.5 579.5L132.5 571.5M138.5 579.5L142.5 571.5M391.5 579.5L395.5 571.5M412.5 579.5L416.5 571.5M422.5 579.5L426.5 571.5M484.5 579.5L488.5 571.5M128.5 597.5L132.5 589.5M138.5 597.5L142.5 589.5M200.5 597.5L204.5 589.5M412.5 597.5L416.5 589.5M422.5 597.5L426.5 589.5M128.5 615.5L132.5 607.5M138.5 615.5L142.5 607.5M200.5 615.5L204.5 607.5M412.5 615.5L416.5 607.5M422.5 615.5L426.5 607.5M107.5 633.5L111.5 625.5M128.5 633.5L132.5 625.5M138.5 633.5L142.5 625.5M391.5 633.5L395.5 625.5M412.5 633.5L416.5 625.5M422.5 633.5L426.5 625.5M484.5 633.5L488.5 625.5M107.5 651.5L111.5 643.5M128.5 651.5L132.5 643.5M138.5 651.5L142.5 643.5M391.5 651.5L395.5 643.5M412.5 651.5L416.5 643.5M422.5 651.5L426.5 643.5M484.5 651.5L488.5 643.5"/>
<g fill="#000"><rect x="65.63" y="7.96" width="2.2" height="2.2"/><rect x="65.63" y="15.09" width="2.2" height="2.2"/><rect x="138.77" y="4.74" width="2.2" height="2.2"/><rect x="169.67" y="4.74" width="2.2" height="2.2"/><rect x="353.94" y="15.09" width="2.2" height="2.2"/><rect x="505.04" y="15.09" width="2.2" height="2.2"/><rect x="603.27" y="14.86" width="2.2" height="2.2"/><rect x="434.83" y="28.56" width="2.2" height="2.2"/><rect x="434.83" y="35.69" width="2.2" height="2.2"/><rect x="537.74" y="35.69" width="2.2" height="2.2"/><rect x="534.34" y="56.09" width="2.2" height="2.2"/><rect x="117.59" y="242.69" width="2.2" height="2.2"/><rect x="539.44" y="242.69" width="2.2" height="2.2"/><rect x="65.53" y="254.86" width="2.2" height="2.2"/><rect x="65.53" y="261.99" width="2.2" height="2.2"/><rect x="148.97" y="251.64" width="2.2" height="2.2"/><rect x="353.54" y="261.99" width="2.2" height="2.2"/><rect x="505.04" y="261.99" width="2.2" height="2.2"/><rect x="603.27" y="261.76" width="2.2" height="2.2"/><rect x="433.93" y="274.96" width="2.2" height="2.2"/><rect x="433.93" y="282.09" width="2.2" height="2.2"/><rect x="537.64" y="282.29" width="2.2" height="2.2"/><rect x="534.04" y="302.49" width="2.2" height="2.2"/><rect x="117.59" y="489.19" width="2.2" height="2.2"/><rect x="539.44" y="489.19" width="2.2" height="2.2"/><rect x="56.73" y="500.86" width="2.2" height="2.2"/><rect x="56.73" y="507.99" width="2.2" height="2.2"/><rect x="340.03" y="500.86" width="2.2" height="2.2"/><rect x="340.03" y="507.99" width="2.2" height="2.2"/><rect x="56.23" y="518.96" width="2.2" height="2.2"/><rect x="56.23" y="526.09" width="2.2" height="2.2"/><rect x="118.24" y="526.09" width="2.2" height="2.2"/><rect x="210.94" y="526.09" width="2.2" height="2.2"/><rect x="340.03" y="518.96" width="2.2" height="2.2"/><rect x="340.03" y="526.09" width="2.2" height="2.2"/><rect x="402.04" y="526.09" width="2.2" height="2.2"/><rect x="494.74" y="526.09" width="2.2" height="2.2"/><rect x="56.23" y="536.96" width="2.2" height="2.2"/><rect x="56.23" y="544.09" width="2.2" height="2.2"/><rect x="118.24" y="544.09" width="2.2" height="2.2"/><rect x="210.94" y="544.09" width="2.2" height="2.2"/><rect x="340.03" y="536.96" width="2.2" height="2.2"/><rect x="340.03" y="544.09" width="2.2" height="2.2"/><rect x="402.04" y="544.09" width="2.2" height="2.2"/><rect x="494.74" y="544.09" width="2.2" height="2.2"/><rect x="118.24" y="562.09" width="2.2" height="2.2"/><rect x="210.94" y="562.09" width="2.2" height="2.2"/><rect x="340.03" y="554.96" width="2.2" height="2.2"/><rect x="340.03" y="562.09" width="2.2" height="2.2"/><rect x="402.04" y="562.09" width="2.2" height="2.2"/><rect x="494.74" y="562.09" width="2.2" height="2.2"/><rect x="56.23" y="572.96" width="2.2" height="2.2"/><rect x="56.23" y="580.09" width="2.2" height="2.2"/><rect x="118.24" y="580.09" width="2.2" height="2.2"/><rect x="210.94" y="580.09" width="2.2" height="2.2"/><rect x="340.03" y="572.96" width="2.2" height="2.2"/><rect x="340.03" y="580.09" width="2.2" height="2.2"/><rect x="402.04" y="580.09" width="2.2" height="2.2"/><rect x="494.74" y="580.09" width="2.2" height="2.2"/><rect x="56.23" y="590.96" width="2.2" height="2.2"/><rect x="56.23" y="598.09" width="2.2" height="2.2"/><rect x="118.24" y="598.09" width="2.2" height="2.2"/><rect x="210.94" y="598.09" width="2.2" height="2.2"/><rect x="340.03" y="590.96" width="2.2" height="2.2"/><rect x="340.03" y="598.09" width="2.2" height="2.2"/><rect x="402.04" y="598.09" width="2.2" height="2.2"/><rect x="494.74" y="598.09" width="2.2" height="2.2"/><rect x="56.23" y="608.96" width="2.2" height="2.2"/><rect x="56.23" y="616.09" width="2.2" height="2.2"/><rect x="118.24" y="616.09" width="2.2" height="2.2"/><rect x="210.94" y="616.09" width="2.2" height="2.2"/><rect x="340.03" y="608.96" width="2.2" height="2.2"/><rect x="340.03" y="616.09" width="2.2" height="2.2"/><rect x="402.04" y="616.09" width="2.2" height="2.2"/><rect x="494.74" y="616.09" width="2.2" height="2.2"/><rect x="56.23" y="626.96" width="2.2" height="2.2"/><rect x="56.23" y="634.09" width="2.2" height="2.2"/><rect x="118.24" y="634.09" width="2.2" height="2.2"/><rect x="210.94" y="634.09" width="2.2" height="2.2"/><rect x="402.04" y="634.09" width="2.2" height="2.2"/><rect x="494.74" y="634.09" width="2.2" height="2.2"/><rect x="56.23" y="644.96" width="2.2" height="2.2"/><rect x="56.23" y="652.09" width="2.2" height="2.2"/><rect x="118.24" y="652.09" width="2.2" height="2.2"/><rect x="210.94" y="652.09" width="2.2" height="2.2"/><rect x="340.03" y="644.96" width="2.2" height="2.2"/><rect x="340.03" y="652.09" width="2.2" height="2.2"/><rect x="402.04" y="652.09" width="2.2" height="2.2"/><rect x="494.74" y="652.09" width="2.2" height="2.2"/></g>
</svg></body></html>
